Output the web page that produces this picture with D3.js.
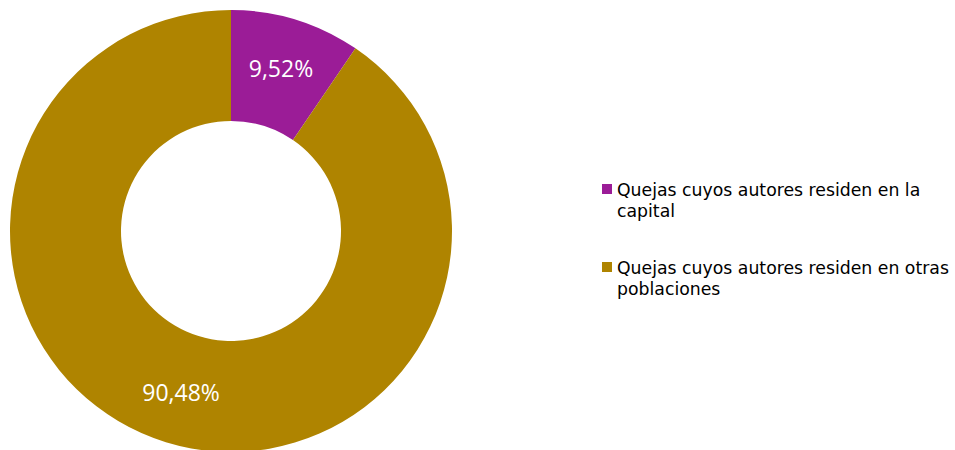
<!DOCTYPE html>
<html>
<head>
<meta charset="utf-8">
<script src="https://cdn.jsdelivr.net/npm/d3@7"></script>
<style>
  html, body { margin: 0; padding: 0; background: #fff; }
  svg { display: block; }
</style>
</head>
<body>
<svg id="chart" width="955" height="450"></svg>
<script>
// Complaint origin shares (percent)
const categories = [
  "Quejas cuyos autores residen en la capital",
  "Quejas cuyos autores residen en otras poblaciones"
];
const values = [9.52, 90.48];
const valueLabels = ["9,52%", "90,48%"];
const colors = ["#9B1C97", "#AF8400"];
const legendLines = [
  ["Quejas cuyos autores residen en la", "capital"],
  ["Quejas cuyos autores residen en otras", "poblaciones"]
];

const svg = d3.select("#chart");
const cx = 231, cy = 231, outerR = 221, innerR = 110;

const pie = d3.pie().sort(null).value(d => d);
const arc = d3.arc().innerRadius(innerR).outerRadius(outerR);
const labelArc = d3.arc().innerRadius(innerR + 4).outerRadius(outerR + 4);
const color = d3.scaleOrdinal().domain(categories).range(colors);

const g = svg.append("g").attr("transform", `translate(${cx},${cy})`);
const arcs = pie(values);

g.selectAll("path.slice")
  .data(arcs)
  .join("path")
  .attr("class", "slice")
  .attr("d", arc)
  .attr("fill", (d, i) => color(categories[i]));

g.selectAll("text.val")
  .data(arcs)
  .join("text")
  .attr("class", "val")
  .attr("transform", d => `translate(${labelArc.centroid(d)})`)
  .attr("text-anchor", "middle")
  .attr("dy", "0.35em")
  .attr("fill", "#fff")
  .style("font-family", "'Open Sans', sans-serif")
  .style("font-size", "23px")
  .text((d, i) => valueLabels[i]);

// Legend
const legend = svg.append("g").attr("transform", "translate(602,0)");
const itemY = [184, 262];
categories.forEach((c, i) => {
  const item = legend.append("g").attr("transform", `translate(0,${itemY[i]})`);
  item.append("rect")
    .attr("width", 10).attr("height", 10)
    .attr("fill", color(c));
  const t = item.append("text")
    .attr("x", 15)
    .attr("y", 12)
    .attr("fill", "#000")
    .style("font-family", "'DejaVu Sans', sans-serif")
    .style("font-size", "17.3px");
  legendLines[i].forEach((line, k) => {
    t.append("tspan").attr("x", 15).attr("dy", k === 0 ? 0 : 21).text(line);
  });
});
</script>
</body>
</html>
